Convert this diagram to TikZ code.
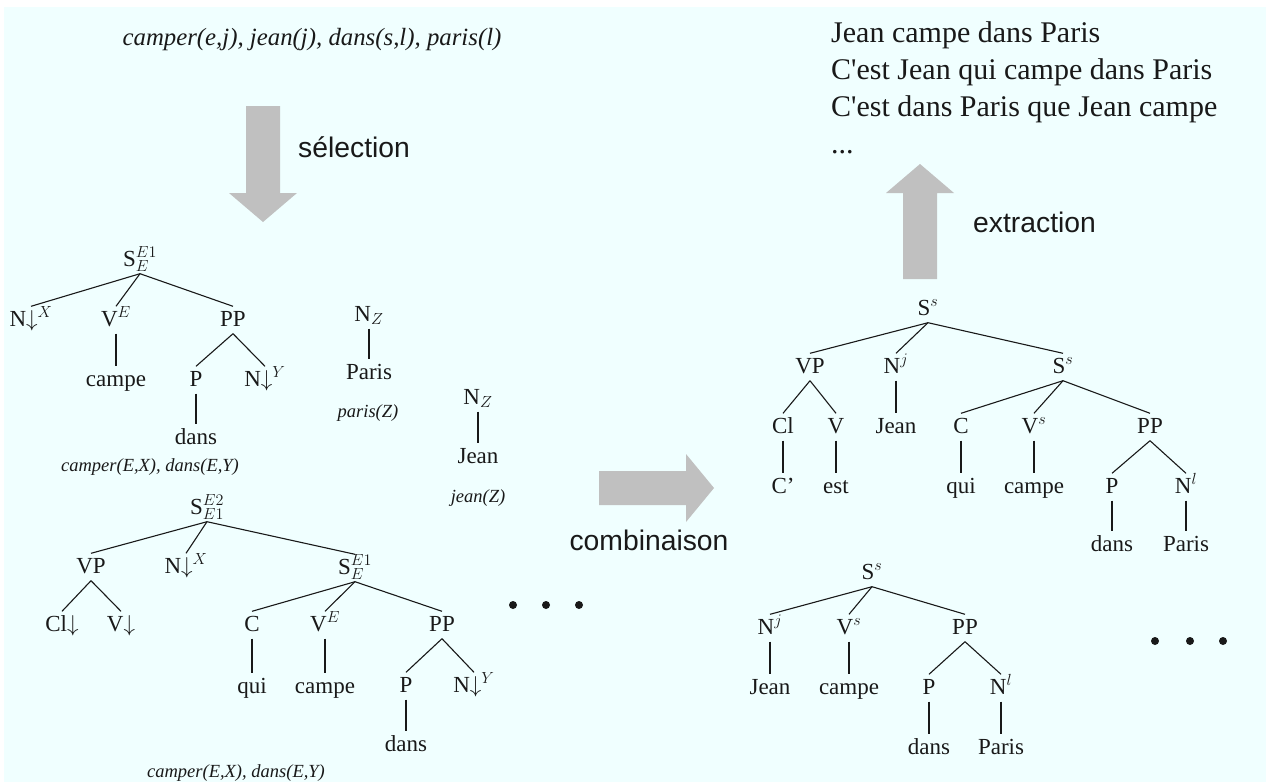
\RequirePackage{fix-cm}
\documentclass[tikz,border=0pt]{standalone}
\usepackage{fontspec}
\setmainfont{Liberation Serif}
\newfontfamily\helv{Liberation Sans}
\definecolor{bgcyan}{RGB}{240,255,255}
\definecolor{argray}{RGB}{192,192,192}
\definecolor{ink}{RGB}{25,25,25}

\begin{document}
\begin{tikzpicture}[x=1pt,y=-1pt,
cat/.style = {inner sep=2.5pt,text height=17pt,text depth=5pt,font=\fontsize{23}{27}\selectfont,text=ink},
sem/.style = {inner sep=0pt,font=\fontsize{18.5}{22}\selectfont\itshape,text=ink},
br/.style = {draw,line width=1.1pt,ink},
grar/.style = {fill=argray},
lab/.style = {inner sep=0pt,anchor=west,font=\helv\fontsize{28.3}{33}\selectfont,text=ink},
sent/.style = {inner sep=0pt,anchor=base west,font=\fontsize{30}{34}\selectfont,text=ink},
pt/.style = {fill=ink,circle,inner sep=0pt,minimum size=8pt}
]
  \useasboundingbox (0,0) rectangle (1266,782);
  \fill[white] (0,0) rectangle (1266,782);
  \fill[bgcyan] (4,7) rectangle (1266,782);

  % gray arrows
  \fill[grar] (246,106) -- (280,106) -- (280,193) -- (297,193) -- (263,222) -- (229,193) -- (246,193) -- cycle;
  \fill[grar] (903,279) -- (937,279) -- (937,193) -- (954,193) -- (920,164) -- (886,193) -- (903,193) -- cycle;
  \fill[grar] (599,471) -- (686,471) -- (686,454) -- (714,488) -- (686,522) -- (686,505) -- (599,505) -- cycle;

  \node[lab] (selec) at (298,147) {sélection};
  \node[lab] (extr) at (973,222) {extraction};
  \node[lab,anchor=center] (comb) at (649,540) {combinaison};

  \node[sem,font=\fontsize{24.8}{28}\selectfont\itshape] (sem0) at (312,40) {camper(e,j), jean(j), dans(s,l), paris(l)};

  \node[sent] (l1) at (831,42) {Jean campe dans Paris};
  \node[sent] (l2) at (831,79) {C\textquotesingle est Jean qui campe dans Paris};
  \node[sent] (l3) at (831,116) {C\textquotesingle est dans Paris que Jean campe};
  \node[sent] (l4) at (831,153) {...};

  % tree 1
  \node[cat] (t1s) at (140,260) {S$^{E1}_{E}$};
  \node[cat] (t1n) at (31,320) {N$\downarrow^{X}$};
  \node[cat] (t1v) at (116,320) {V$^{E}$};
  \node[cat] (t1pp) at (233,320) {PP};
  \node[cat] (t1campe) at (116,380) {campe};
  \node[cat] (t1p) at (196,380) {P};
  \node[cat] (t1ny) at (265,380) {N$\downarrow^{Y}$};
  \node[cat] (t1dans) at (196,438) {dans};
  \node[sem] (c1) at (150,467) {camper(E,X), dans(E,Y)};
  \foreach \c in {t1n,t1v,t1pp} \path[br] (t1s.south) -- (\c.north);
  \path[br] (t1v.south) -- (t1campe.north);
  \path[br] (t1pp.south) -- (t1p.north);
  \path[br] (t1pp.south) -- (t1ny.north);
  \path[br] (t1p.south) -- (t1dans.north);

  % Paris, Jean
  \node[cat] (nz1) at (369,315) {N$_{Z}$};
  \node[cat] (paris1) at (369,373) {Paris};
  \node[sem] (c2) at (368,413) {paris(Z)};
  \path[br] (nz1.south) -- (paris1.north);
  \node[cat] (nz2) at (478,398) {N$_{Z}$};
  \node[cat] (jean1) at (478,457) {Jean};
  \node[sem] (c3) at (478,498) {jean(Z)};
  \path[br] (nz2.south) -- (jean1.north);

  % tree 2
  \node[cat] (t2s) at (207,508) {S$^{E2}_{E1}$};
  \node[cat] (t2vp) at (91,567) {VP};
  \node[cat] (t2n) at (186,567) {N$\downarrow^{X}$};
  \node[cat] (t2s1) at (355,568) {S$^{E1}_{E}$};
  \node[cat] (t2cl) at (62,625) {Cl$\downarrow$};
  \node[cat] (t2v) at (121,625) {V$\downarrow$};
  \node[cat] (t2c) at (252,625) {C};
  \node[cat] (t2ve) at (325,625) {V$^{E}$};
  \node[cat] (t2pp) at (442,625) {PP};
  \node[cat] (t2qui) at (252,687) {qui};
  \node[cat] (t2campe) at (325,687) {campe};
  \node[cat] (t2p) at (406,686) {P};
  \node[cat] (t2ny) at (474,686) {N$\downarrow^{Y}$};
  \node[cat] (t2dans) at (406,745) {dans};
  \node[sem] (c4) at (236,773) {camper(E,X), dans(E,Y)};
  \foreach \c in {t2vp,t2n,t2s1} \path[br] (t2s.south) -- (\c.north);
  \foreach \c in {t2cl,t2v} \path[br] (t2vp.south) -- (\c.north);
  \foreach \c in {t2c,t2ve,t2pp} \path[br] (t2s1.south) -- (\c.north);
  \path[br] (t2c.south) -- (t2qui.north);
  \path[br] (t2ve.south) -- (t2campe.north);
  \foreach \c in {t2p,t2ny} \path[br] (t2pp.south) -- (\c.north);
  \path[br] (t2p.south) -- (t2dans.north);
  \node[pt] (d1) at (513,605) {};
  \node[pt] (d2) at (546,605) {};
  \node[pt] (d3) at (579,605) {};

  % tree 3
  \node[cat] (t3s) at (928,309) {S$^{s}$};
  \node[cat] (t3vp) at (810,367) {VP};
  \node[cat] (t3nj) at (896,367) {N$^{j}$};
  \node[cat] (t3s2) at (1063,367) {S$^{s}$};
  \node[cat] (t3cl) at (783,427) {Cl};
  \node[cat] (t3v) at (836,427) {V};
  \node[cat] (t3jean) at (896,427) {Jean};
  \node[cat] (t3c) at (961,427) {C};
  \node[cat] (t3vs) at (1034,427) {V$^{s}$};
  \node[cat] (t3pp) at (1150,427) {PP};
  \node[cat] (t3cp) at (783,487) {C'};
  \node[cat] (t3est) at (836,487) {est};
  \node[cat] (t3qui) at (961,487) {qui};
  \node[cat] (t3campe) at (1034,487) {campe};
  \node[cat] (t3p) at (1112,487) {P};
  \node[cat] (t3nl) at (1186,487) {N$^{l}$};
  \node[cat] (t3dans) at (1112,545) {dans};
  \node[cat] (t3paris) at (1186,545) {Paris};
  \foreach \c in {t3vp,t3nj,t3s2} \path[br] (t3s.south) -- (\c.north);
  \foreach \c in {t3cl,t3v} \path[br] (t3vp.south) -- (\c.north);
  \path[br] (t3nj.south) -- (t3jean.north);
  \foreach \c in {t3c,t3vs,t3pp} \path[br] (t3s2.south) -- (\c.north);
  \path[br] (t3cl.south) -- (t3cp.north);
  \path[br] (t3v.south) -- (t3est.north);
  \path[br] (t3c.south) -- (t3qui.north);
  \path[br] (t3vs.south) -- (t3campe.north);
  \foreach \c in {t3p,t3nl} \path[br] (t3pp.south) -- (\c.north);
  \path[br] (t3p.south) -- (t3dans.north);
  \path[br] (t3nl.south) -- (t3paris.north);

  % tree 4
  \node[cat] (t4s) at (872,573) {S$^{s}$};
  \node[cat] (t4nj) at (770,628) {N$^{j}$};
  \node[cat] (t4vs) at (849,628) {V$^{s}$};
  \node[cat] (t4pp) at (965,628) {PP};
  \node[cat] (t4jean) at (770,688) {Jean};
  \node[cat] (t4campe) at (849,688) {campe};
  \node[cat] (t4p) at (929,688) {P};
  \node[cat] (t4nl) at (1001,688) {N$^{l}$};
  \node[cat] (t4dans) at (929,748) {dans};
  \node[cat] (t4paris) at (1001,748) {Paris};
  \foreach \c in {t4nj,t4vs,t4pp} \path[br] (t4s.south) -- (\c.north);
  \path[br] (t4nj.south) -- (t4jean.north);
  \path[br] (t4vs.south) -- (t4campe.north);
  \foreach \c in {t4p,t4nl} \path[br] (t4pp.south) -- (\c.north);
  \path[br] (t4p.south) -- (t4dans.north);
  \path[br] (t4nl.south) -- (t4paris.north);
  \node[pt] (d4) at (1155,641) {};
  \node[pt] (d5) at (1190,641) {};
  \node[pt] (d6) at (1223,641) {};

\end{tikzpicture}
\end{document}
